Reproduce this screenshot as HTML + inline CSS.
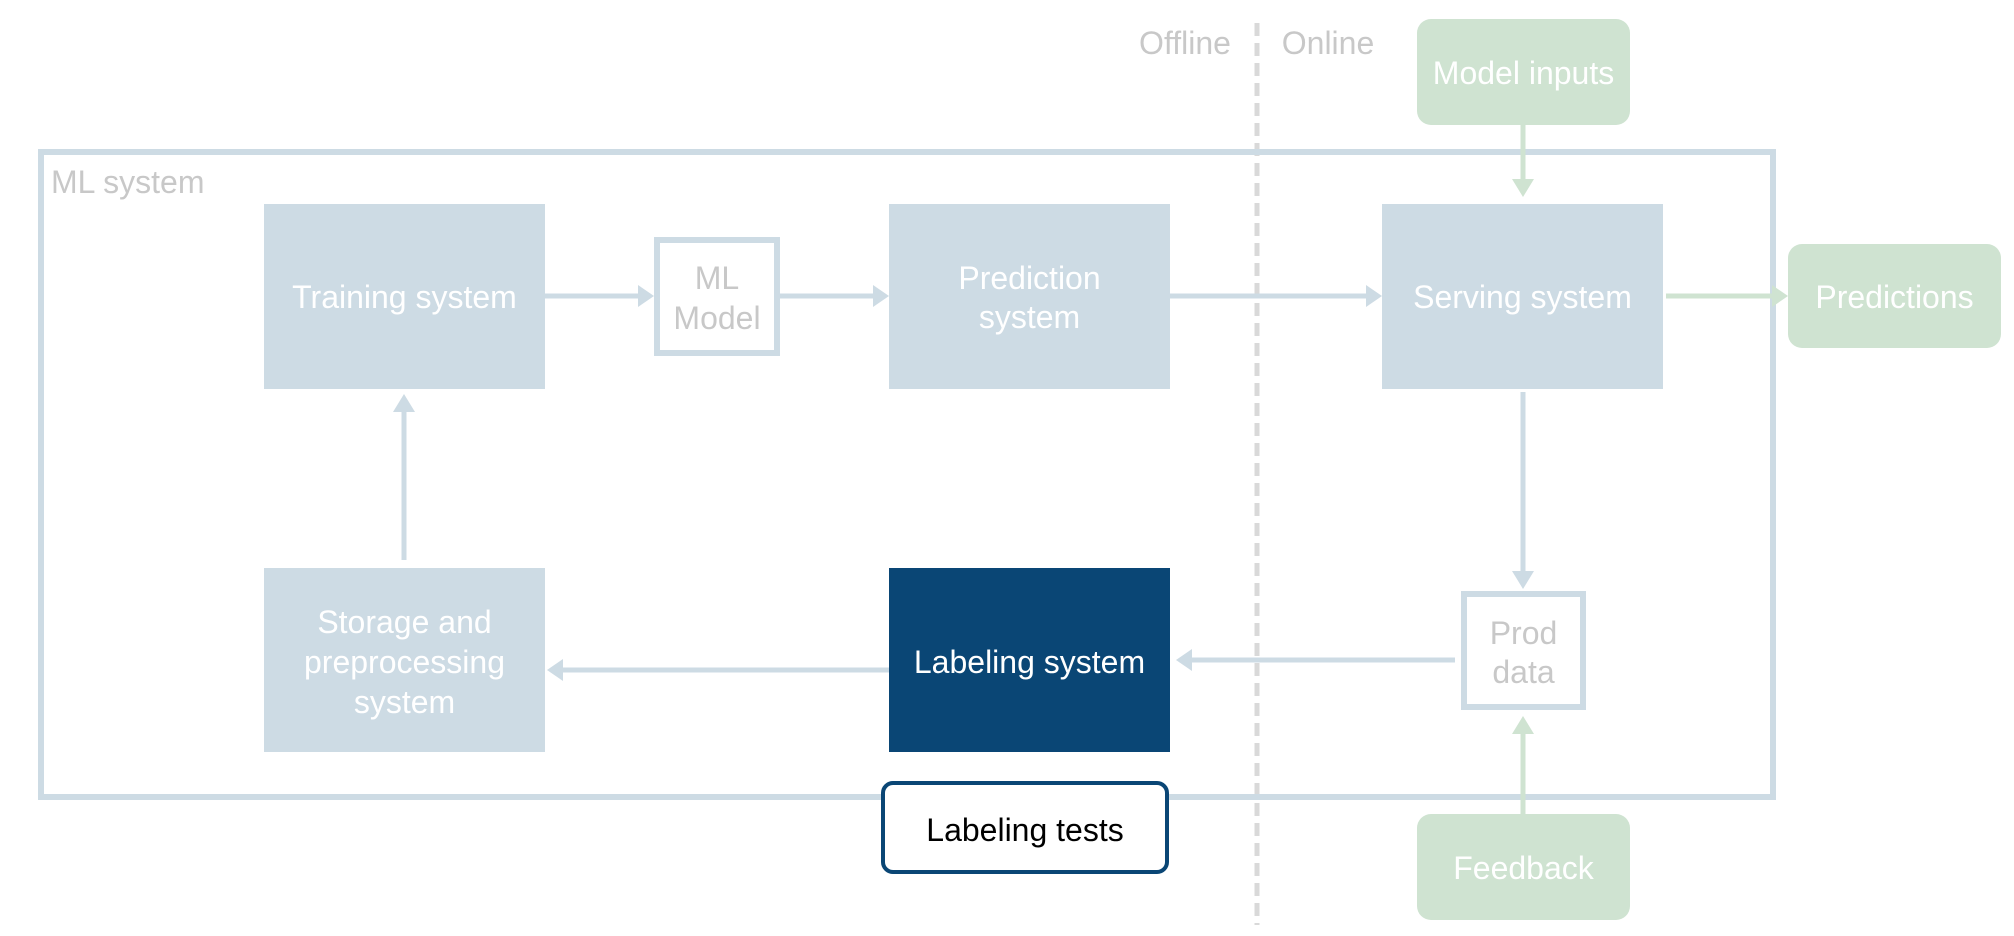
<!DOCTYPE html>
<html><head><meta charset="utf-8"><style>
html,body{margin:0;padding:0;background:#fff;}
svg{display:block;}
text{font-family:"Liberation Sans",Arial,sans-serif;}
</style></head><body>
<svg width="2014" height="936" viewBox="0 0 2014 936" xmlns="http://www.w3.org/2000/svg">
<line x1="1257" y1="23" x2="1257" y2="925" stroke="#d9d9d9" stroke-width="5" stroke-dasharray="13,7"/>
<text x="1185" y="54" font-size="32" fill="#c8c8c8" text-anchor="middle">Offline</text>
<text x="1328" y="54" font-size="32" fill="#c8c8c8" text-anchor="middle">Online</text>
<rect x="41" y="152" width="1732" height="645" fill="none" stroke="#cddbe4" stroke-width="6"/>
<text x="51" y="193" font-size="32" fill="#c8c8c8">ML system</text>

<rect x="264" y="204" width="281" height="185" fill="#cddbe4"/>
<text x="404.5" y="308" font-size="32" fill="#fff" text-anchor="middle">Training system</text>

<rect x="657" y="240" width="120" height="113" fill="#fff" stroke="#cddbe4" stroke-width="6"/>
<text x="717" y="289" font-size="32" fill="#c8c8c8" text-anchor="middle">ML</text>
<text x="717" y="329" font-size="32" fill="#c8c8c8" text-anchor="middle">Model</text>

<rect x="889" y="204" width="281" height="185" fill="#cddbe4"/>
<text x="1029.5" y="289" font-size="32" fill="#fff" text-anchor="middle">Prediction</text>
<text x="1029.5" y="328" font-size="32" fill="#fff" text-anchor="middle">system</text>

<rect x="1382" y="204" width="281" height="185" fill="#cddbe4"/>
<text x="1522.5" y="308" font-size="32" fill="#fff" text-anchor="middle">Serving system</text>

<rect x="1788" y="244" width="213" height="104" rx="14" fill="#cfe3d1"/>
<text x="1894.5" y="308" font-size="32" fill="#fff" text-anchor="middle">Predictions</text>

<rect x="1417" y="19" width="213" height="106" rx="14" fill="#cfe3d1"/>
<text x="1523.5" y="84" font-size="32" fill="#fff" text-anchor="middle">Model inputs</text>

<rect x="264" y="568" width="281" height="184" fill="#cddbe4"/>
<text x="404.5" y="633" font-size="32" fill="#fff" text-anchor="middle">Storage and</text>
<text x="404.5" y="673" font-size="32" fill="#fff" text-anchor="middle">preprocessing</text>
<text x="404.5" y="713" font-size="32" fill="#fff" text-anchor="middle">system</text>

<rect x="889" y="568" width="281" height="184" fill="#0a4675"/>
<text x="1029.5" y="673" font-size="32" fill="#fff" text-anchor="middle">Labeling system</text>

<rect x="1464" y="594" width="119" height="113" fill="#fff" stroke="#cddbe4" stroke-width="6"/>
<text x="1523.5" y="644" font-size="32" fill="#c8c8c8" text-anchor="middle">Prod</text>
<text x="1523.5" y="683" font-size="32" fill="#c8c8c8" text-anchor="middle">data</text>

<rect x="1417" y="814" width="213" height="106" rx="14" fill="#cfe3d1"/>
<text x="1523.5" y="879" font-size="32" fill="#fff" text-anchor="middle">Feedback</text>

<rect x="883" y="783" width="284" height="89" rx="10" fill="#fff" stroke="#0a4675" stroke-width="4"/>
<text x="1025" y="841" font-size="32" fill="#000" text-anchor="middle">Labeling tests</text>

<g stroke-width="5" fill="none">
<line x1="545" y1="296" x2="640" y2="296" stroke="#cddbe4"/>
<path d="M654,296 L638,285 L638,307 z" fill="#cddbe4" stroke="none"/>
<line x1="777" y1="296" x2="875" y2="296" stroke="#cddbe4"/>
<path d="M889,296 L873,285 L873,307 z" fill="#cddbe4" stroke="none"/>
<line x1="1170" y1="296" x2="1368" y2="296" stroke="#cddbe4"/>
<path d="M1382,296 L1366,285 L1366,307 z" fill="#cddbe4" stroke="none"/>
<line x1="1666" y1="296" x2="1774" y2="296" stroke="#cfe3d1"/>
<path d="M1788,296 L1772,285 L1772,307 z" fill="#cfe3d1" stroke="none"/>
<line x1="1523" y1="125" x2="1523" y2="182" stroke="#cfe3d1"/>
<path d="M1523,197 L1512,179 L1534,179 z" fill="#cfe3d1" stroke="none"/>
<line x1="1523" y1="392" x2="1523" y2="574" stroke="#cddbe4"/>
<path d="M1523,589 L1512,571 L1534,571 z" fill="#cddbe4" stroke="none"/>
<line x1="1523" y1="814" x2="1523" y2="730" stroke="#cfe3d1"/>
<path d="M1523,716 L1512,734 L1534,734 z" fill="#cfe3d1" stroke="none"/>
<line x1="1455" y1="660" x2="1190" y2="660" stroke="#cddbe4"/>
<path d="M1176,660 L1192,649 L1192,671 z" fill="#cddbe4" stroke="none"/>
<line x1="889" y1="670" x2="561" y2="670" stroke="#cddbe4"/>
<path d="M547,670 L563,659 L563,681 z" fill="#cddbe4" stroke="none"/>
<line x1="404" y1="560" x2="404" y2="410" stroke="#cddbe4"/>
<path d="M404,394 L393,412 L415,412 z" fill="#cddbe4" stroke="none"/>
</g>
</svg>
</body></html>
